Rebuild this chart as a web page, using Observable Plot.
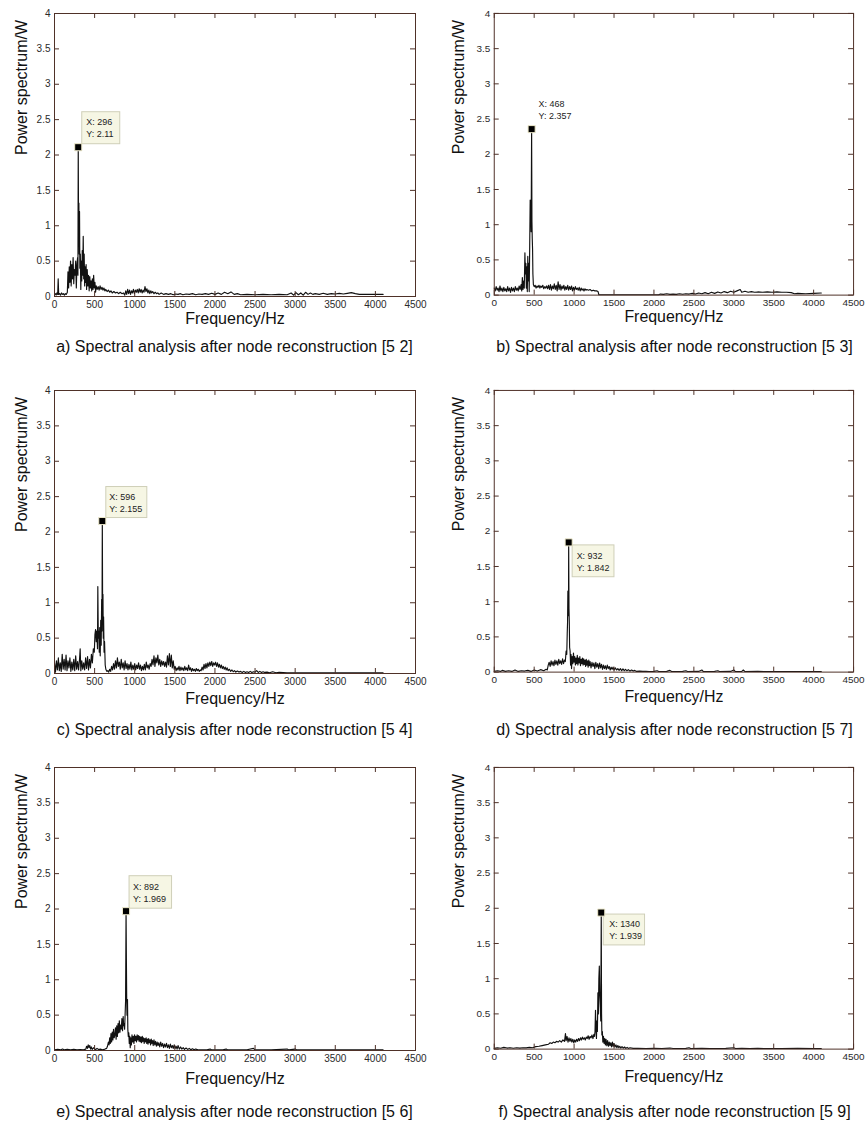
<!DOCTYPE html>
<html><head><meta charset="utf-8">
<script src="https://cdn.jsdelivr.net/npm/d3@7"></script>
<script src="https://cdn.jsdelivr.net/npm/@observablehq/plot@0.6"></script>
<style>
body{margin:0;background:#fff;font-family:"Liberation Sans",Arial,sans-serif;}
#wrap{position:relative;width:868px;height:1124px;overflow:hidden;}
.panel{position:absolute;}
.panel svg{display:block;}
.cap{position:absolute;width:500px;text-align:center;font-size:16px;color:#111;white-space:nowrap;line-height:18px;}
</style></head>
<body><div id="wrap"></div>
<script>
const xTicks = [0,500,1000,1500,2000,2500,3000,3500,4000,4500];
const yTicks = [0,0.5,1,1.5,2,2.5,3,3.5,4];

const spectrumA = [[0,0.03],[10,0.04],[20,0.02],[30,0.05],[40,0.03],[46,0.25],[52,0.03],[64,0.04],[76,0.02],[88,0.05],[100,0.03],[112,0.04],[124,0.02],[136,0.04],[148,0.03],[160,0.06],[168,0.35],[176,0.12],[184,0.42],[192,0.2],[200,0.5],[208,0.15],[216,0.45],[224,0.25],[232,0.55],[240,0.18],[248,0.38],[256,0.3],[264,0.5],[272,0.12],[280,0.45],[288,0.55],[292,0.3],[296,2.11],[300,0.9],[304,1.32],[308,0.6],[312,1.2],[316,0.4],[322,0.6],[328,0.1],[334,0.5],[340,0.22],[346,0.65],[352,0.3],[358,0.85],[364,0.25],[370,0.6],[376,0.15],[382,0.42],[388,0.2],[394,0.45],[400,0.1],[408,0.38],[416,0.15],[424,0.3],[432,0.08],[440,0.28],[448,0.12],[456,0.22],[464,0.08],[472,0.25],[480,0.1],[488,0.3],[496,0.12],[504,0.2],[512,0.06],[520,0.15],[532,0.1],[544,0.14],[556,0.09],[568,0.15],[580,0.1],[592,0.13],[604,0.09],[616,0.12],[628,0.08],[640,0.1],[656,0.07],[672,0.09],[688,0.06],[704,0.08],[720,0.05],[740,0.07],[760,0.05],[780,0.06],[800,0.04],[820,0.06],[840,0.04],[860,0.05],[876,0.02],[888,0.08],[900,0.03],[912,0.1],[924,0.04],[936,0.09],[948,0.03],[960,0.08],[972,0.05],[984,0.1],[996,0.04],[1008,0.09],[1020,0.06],[1032,0.1],[1044,0.05],[1056,0.11],[1068,0.06],[1080,0.1],[1092,0.05],[1104,0.09],[1116,0.06],[1128,0.14],[1140,0.07],[1152,0.11],[1164,0.05],[1176,0.09],[1188,0.04],[1200,0.08],[1212,0.05],[1224,0.07],[1240,0.04],[1256,0.06],[1272,0.04],[1288,0.05],[1304,0.03],[1330,0.05],[1360,0.03],[1390,0.04],[1420,0.03],[1450,0.04],[1480,0.025],[1510,0.035],[1540,0.03],[1570,0.04],[1600,0.025],[1640,0.035],[1680,0.03],[1720,0.04],[1760,0.025],[1800,0.035],[1840,0.03],[1880,0.04],[1920,0.03],[1960,0.045],[2000,0.03],[2040,0.05],[2080,0.03],[2120,0.06],[2160,0.04],[2200,0.065],[2240,0.03],[2280,0.04],[2320,0.025],[2400,0.03],[2500,0.025],[2600,0.03],[2700,0.025],[2800,0.03],[2900,0.025],[2950,0.05],[2980,0.02],[3010,0.055],[3040,0.025],[3070,0.05],[3100,0.02],[3130,0.06],[3160,0.03],[3190,0.05],[3220,0.03],[3250,0.04],[3300,0.03],[3350,0.045],[3400,0.03],[3450,0.04],[3500,0.035],[3550,0.045],[3600,0.035],[3650,0.045],[3700,0.055],[3750,0.04],[3800,0.03],[3900,0.03],[4000,0.03],[4096,0.03]];

const spectrumB = [[0,0.1],[12,0.06],[24,0.12],[36,0.07],[48,0.1],[60,0.05],[72,0.13],[84,0.06],[96,0.1],[108,0.05],[120,0.11],[132,0.06],[144,0.09],[156,0.05],[168,0.12],[180,0.06],[192,0.1],[204,0.04],[216,0.11],[228,0.06],[240,0.1],[252,0.05],[264,0.12],[276,0.07],[288,0.1],[300,0.06],[312,0.13],[324,0.08],[336,0.15],[344,0.06],[352,0.25],[360,0.08],[368,0.2],[376,0.1],[384,0.6],[390,0.3],[396,0.45],[402,0.1],[408,0.4],[414,0.05],[420,0.55],[426,0.2],[432,0.45],[438,0.05],[444,0.7],[450,1.35],[456,1.3],[462,0.9],[468,2.357],[472,1.05],[476,0.8],[480,0.65],[484,0.3],[490,0.15],[500,0.12],[512,0.14],[524,0.1],[536,0.13],[548,0.11],[560,0.14],[572,0.1],[584,0.13],[596,0.11],[608,0.14],[620,0.09],[632,0.12],[644,0.1],[656,0.13],[668,0.09],[680,0.14],[692,0.08],[704,0.15],[716,0.07],[728,0.13],[740,0.09],[752,0.16],[764,0.08],[776,0.14],[788,0.06],[800,0.19],[812,0.08],[824,0.15],[836,0.07],[848,0.13],[860,0.09],[872,0.14],[884,0.07],[896,0.12],[908,0.08],[920,0.14],[932,0.07],[944,0.12],[956,0.08],[968,0.13],[980,0.06],[992,0.11],[1004,0.07],[1016,0.12],[1028,0.08],[1040,0.1],[1052,0.07],[1064,0.11],[1076,0.06],[1088,0.1],[1100,0.07],[1112,0.09],[1124,0.06],[1136,0.09],[1148,0.07],[1160,0.08],[1180,0.07],[1200,0.08],[1220,0.06],[1240,0.07],[1260,0.06],[1280,0.06],[1300,0.05],[1310,0.005],[1500,0.005],[1700,0.005],[1900,0.005],[2060,0.005],[2080,0.015],[2120,0.01],[2160,0.02],[2200,0.01],[2240,0.015],[2280,0.01],[2320,0.02],[2360,0.012],[2400,0.02],[2440,0.015],[2480,0.025],[2520,0.015],[2560,0.03],[2600,0.02],[2640,0.035],[2680,0.02],[2720,0.04],[2760,0.025],[2800,0.045],[2840,0.03],[2880,0.05],[2920,0.035],[2960,0.055],[3000,0.04],[3040,0.06],[3080,0.08],[3100,0.04],[3140,0.055],[3180,0.04],[3220,0.05],[3260,0.04],[3300,0.045],[3360,0.04],[3420,0.045],[3480,0.04],[3540,0.045],[3600,0.04],[3660,0.04],[3720,0.035],[3760,0.02],[3800,0.025],[3900,0.02],[4000,0.025],[4096,0.03]];

const spectrumC = [[0,0.15],[12,0.02],[24,0.18],[36,0.05],[48,0.22],[60,0.04],[72,0.15],[84,0.03],[96,0.27],[108,0.06],[120,0.2],[132,0.05],[144,0.26],[156,0.04],[168,0.18],[180,0.08],[192,0.22],[204,0.03],[216,0.16],[228,0.05],[240,0.2],[252,0.04],[264,0.25],[276,0.06],[288,0.17],[300,0.05],[312,0.2],[320,0.35],[328,0.04],[340,0.18],[352,0.06],[364,0.15],[376,0.05],[388,0.22],[400,0.07],[412,0.24],[424,0.05],[436,0.2],[448,0.08],[460,0.27],[472,0.15],[484,0.35],[496,0.3],[504,0.55],[512,0.62],[520,0.45],[528,0.6],[536,0.35],[540,1.23],[546,0.5],[552,0.6],[558,0.3],[564,0.65],[570,0.25],[576,0.75],[582,0.4],[588,1.05],[592,0.6],[596,2.155],[600,0.9],[604,1.12],[608,0.5],[612,0.8],[618,0.3],[624,0.45],[632,0.12],[640,0.06],[652,0.03],[664,0.04],[676,0.02],[688,0.06],[700,0.03],[712,0.1],[724,0.05],[736,0.14],[748,0.06],[760,0.18],[772,0.08],[784,0.22],[796,0.1],[808,0.16],[820,0.06],[832,0.2],[844,0.08],[856,0.15],[868,0.05],[880,0.18],[892,0.07],[904,0.14],[916,0.05],[928,0.13],[940,0.06],[952,0.16],[964,0.05],[976,0.12],[988,0.06],[1000,0.14],[1012,0.05],[1024,0.12],[1036,0.07],[1048,0.15],[1060,0.06],[1072,0.12],[1084,0.04],[1096,0.1],[1108,0.05],[1120,0.13],[1132,0.05],[1144,0.16],[1156,0.08],[1168,0.12],[1180,0.06],[1192,0.14],[1204,0.1],[1216,0.2],[1228,0.12],[1240,0.25],[1252,0.1],[1264,0.22],[1276,0.15],[1288,0.26],[1300,0.12],[1312,0.2],[1324,0.1],[1336,0.18],[1348,0.12],[1360,0.17],[1372,0.1],[1384,0.16],[1396,0.09],[1408,0.25],[1420,0.12],[1432,0.28],[1444,0.1],[1456,0.26],[1468,0.08],[1480,0.18],[1492,0.06],[1504,0.1],[1516,0.04],[1528,0.08],[1540,0.05],[1552,0.1],[1564,0.04],[1576,0.09],[1588,0.05],[1600,0.08],[1612,0.04],[1624,0.1],[1636,0.05],[1648,0.08],[1660,0.04],[1672,0.12],[1684,0.05],[1696,0.08],[1708,0.03],[1720,0.07],[1732,0.04],[1744,0.06],[1756,0.03],[1768,0.07],[1780,0.04],[1792,0.06],[1804,0.03],[1816,0.05],[1828,0.04],[1840,0.09],[1852,0.05],[1864,0.13],[1876,0.07],[1888,0.14],[1900,0.08],[1912,0.15],[1924,0.1],[1936,0.16],[1948,0.11],[1960,0.17],[1972,0.1],[1984,0.15],[1996,0.12],[2008,0.16],[2020,0.1],[2032,0.15],[2044,0.09],[2056,0.13],[2068,0.08],[2080,0.12],[2092,0.07],[2104,0.1],[2116,0.06],[2128,0.09],[2140,0.05],[2152,0.08],[2164,0.04],[2180,0.06],[2196,0.03],[2212,0.05],[2228,0.025],[2244,0.04],[2260,0.02],[2280,0.035],[2300,0.02],[2320,0.03],[2340,0.015],[2360,0.03],[2380,0.015],[2400,0.025],[2420,0.015],[2440,0.03],[2460,0.015],[2480,0.025],[2500,0.02],[2520,0.04],[2540,0.015],[2560,0.03],[2580,0.015],[2600,0.025],[2620,0.015],[2650,0.02],[2680,0.01],[2720,0.025],[2760,0.01],[2800,0.015],[2900,0.01],[3000,0.01],[3200,0.01],[3400,0.01],[3600,0.01],[3800,0.01],[4000,0.01],[4096,0.01]];

const spectrumD = [[0,0.01],[40,0.02],[80,0.01],[100,0.025],[140,0.01],[180,0.02],[220,0.01],[260,0.03],[300,0.01],[340,0.02],[380,0.015],[420,0.025],[460,0.01],[500,0.03],[540,0.015],[580,0.035],[620,0.02],[650,0.04],[664,0.03],[676,0.1],[688,0.14],[700,0.08],[712,0.16],[724,0.1],[736,0.15],[748,0.09],[760,0.17],[772,0.11],[784,0.16],[796,0.1],[808,0.18],[820,0.12],[832,0.16],[844,0.11],[856,0.19],[868,0.12],[880,0.17],[890,0.15],[900,0.3],[908,0.25],[914,0.55],[918,0.7],[922,1.15],[926,1.1],[930,0.8],[932,1.842],[936,0.9],[940,0.7],[944,0.35],[950,0.3],[956,0.1],[962,0.25],[968,0.05],[976,0.22],[984,0.12],[992,0.27],[1000,0.14],[1008,0.22],[1016,0.1],[1024,0.2],[1032,0.12],[1040,0.24],[1048,0.1],[1056,0.2],[1064,0.13],[1072,0.22],[1080,0.09],[1088,0.18],[1096,0.12],[1104,0.2],[1112,0.1],[1120,0.19],[1128,0.11],[1136,0.17],[1144,0.08],[1152,0.18],[1160,0.1],[1168,0.16],[1176,0.07],[1184,0.17],[1192,0.09],[1200,0.15],[1212,0.06],[1224,0.14],[1236,0.08],[1248,0.13],[1260,0.05],[1272,0.14],[1284,0.07],[1296,0.12],[1308,0.05],[1320,0.13],[1332,0.06],[1344,0.11],[1356,0.04],[1368,0.1],[1380,0.05],[1392,0.09],[1404,0.04],[1416,0.1],[1428,0.05],[1440,0.08],[1452,0.03],[1464,0.07],[1476,0.04],[1488,0.07],[1500,0.03],[1516,0.06],[1532,0.03],[1548,0.05],[1564,0.025],[1580,0.05],[1596,0.02],[1612,0.045],[1628,0.02],[1644,0.04],[1660,0.02],[1680,0.035],[1700,0.015],[1720,0.03],[1740,0.015],[1760,0.025],[1780,0.01],[1820,0.015],[1860,0.01],[1900,0.012],[1940,0.008],[2000,0.01],[2040,0.02],[2060,0.008],[2160,0.01],[2200,0.025],[2220,0.008],[2360,0.01],[2400,0.02],[2420,0.008],[2560,0.01],[2600,0.03],[2620,0.008],[2760,0.01],[2800,0.02],[2820,0.008],[2960,0.01],[3000,0.03],[3020,0.008],[3100,0.01],[3120,0.03],[3140,0.008],[3300,0.01],[3400,0.008],[3600,0.008],[3800,0.008],[4000,0.008],[4096,0.008]];

const spectrumE = [[0,0.01],[40,0.015],[80,0.01],[100,0.02],[120,0.01],[160,0.015],[200,0.01],[240,0.015],[280,0.01],[320,0.012],[360,0.01],[390,0.02],[400,0.06],[410,0.03],[420,0.08],[430,0.04],[440,0.07],[450,0.02],[460,0.05],[470,0.015],[490,0.04],[510,0.01],[530,0.03],[550,0.015],[570,0.02],[600,0.01],[630,0.02],[650,0.03],[660,0.06],[672,0.12],[680,0.08],[688,0.18],[696,0.1],[704,0.24],[712,0.12],[720,0.26],[728,0.15],[736,0.3],[744,0.18],[752,0.22],[760,0.32],[768,0.16],[776,0.35],[784,0.2],[792,0.38],[800,0.25],[808,0.42],[816,0.26],[824,0.36],[832,0.3],[840,0.45],[848,0.28],[856,0.48],[862,0.35],[868,0.38],[874,0.3],[880,0.5],[886,0.7],[892,1.969],[896,1.3],[900,0.72],[904,0.5],[910,0.72],[914,0.3],[920,0.2],[926,0.25],[932,0.1],[938,0.2],[944,0.04],[950,0.18],[958,0.08],[966,0.22],[974,0.12],[982,0.2],[990,0.1],[998,0.22],[1006,0.14],[1014,0.2],[1022,0.12],[1030,0.22],[1038,0.15],[1046,0.21],[1054,0.13],[1062,0.2],[1070,0.12],[1078,0.19],[1086,0.11],[1094,0.2],[1102,0.13],[1110,0.18],[1118,0.1],[1126,0.17],[1134,0.12],[1142,0.18],[1150,0.1],[1158,0.16],[1166,0.09],[1174,0.17],[1182,0.11],[1190,0.15],[1198,0.08],[1206,0.16],[1214,0.1],[1222,0.14],[1230,0.07],[1240,0.15],[1250,0.08],[1260,0.13],[1270,0.06],[1280,0.12],[1290,0.07],[1300,0.11],[1312,0.05],[1324,0.12],[1336,0.06],[1348,0.1],[1360,0.04],[1372,0.09],[1384,0.05],[1396,0.1],[1408,0.04],[1420,0.08],[1432,0.03],[1444,0.09],[1456,0.04],[1468,0.07],[1480,0.03],[1492,0.08],[1504,0.03],[1516,0.06],[1528,0.02],[1540,0.07],[1556,0.02],[1572,0.05],[1588,0.02],[1604,0.04],[1620,0.015],[1640,0.035],[1660,0.015],[1680,0.03],[1700,0.01],[1720,0.025],[1740,0.01],[1760,0.02],[1800,0.008],[1900,0.01],[1940,0.02],[1960,0.008],[2100,0.01],[2140,0.02],[2160,0.008],[2300,0.01],[2400,0.01],[2480,0.03],[2500,0.008],[2600,0.01],[2700,0.01],[2900,0.02],[2920,0.008],[3000,0.02],[3020,0.008],[3100,0.01],[3200,0.01],[3400,0.008],[3600,0.008],[3800,0.008],[4000,0.008],[4096,0.008]];

const spectrumF = [[0,0.01],[40,0.02],[80,0.012],[120,0.025],[160,0.015],[200,0.02],[240,0.012],[280,0.02],[320,0.015],[360,0.02],[400,0.018],[440,0.025],[480,0.02],[520,0.035],[560,0.04],[600,0.05],[640,0.06],[680,0.07],[700,0.09],[720,0.08],[740,0.1],[760,0.09],[780,0.11],[800,0.1],[820,0.12],[840,0.1],[860,0.13],[880,0.11],[892,0.22],[900,0.12],[912,0.18],[924,0.1],[936,0.16],[948,0.11],[960,0.15],[972,0.1],[984,0.14],[996,0.09],[1008,0.13],[1020,0.1],[1032,0.14],[1044,0.11],[1056,0.15],[1068,0.12],[1080,0.16],[1092,0.13],[1104,0.17],[1116,0.14],[1128,0.16],[1140,0.13],[1152,0.17],[1164,0.15],[1176,0.19],[1188,0.14],[1200,0.18],[1212,0.16],[1224,0.2],[1236,0.15],[1248,0.21],[1256,0.18],[1262,0.25],[1268,0.55],[1274,0.3],[1280,0.15],[1286,0.4],[1292,0.25],[1298,0.8],[1304,0.5],[1310,1.0],[1316,1.18],[1322,0.75],[1328,0.6],[1334,0.4],[1340,1.939],[1344,0.5],[1348,0.2],[1354,0.25],[1360,0.1],[1368,0.18],[1376,0.08],[1384,0.15],[1392,0.06],[1400,0.14],[1410,0.05],[1420,0.12],[1430,0.04],[1440,0.1],[1450,0.05],[1460,0.09],[1470,0.03],[1480,0.1],[1490,0.04],[1500,0.08],[1512,0.03],[1524,0.06],[1536,0.02],[1548,0.05],[1560,0.02],[1572,0.04],[1584,0.015],[1600,0.035],[1616,0.015],[1632,0.03],[1648,0.01],[1664,0.025],[1680,0.01],[1700,0.02],[1740,0.01],[1800,0.012],[1900,0.008],[2000,0.01],[2100,0.008],[2200,0.015],[2240,0.008],[2400,0.01],[2440,0.02],[2460,0.008],[2600,0.01],[2700,0.008],[2900,0.01],[3000,0.02],[3020,0.008],[3100,0.01],[3200,0.008],[3300,0.01],[3400,0.008],[3600,0.008],[3800,0.01],[4000,0.008],[4096,0.008]];

const peakFreq = [296, 468, 596, 932, 892, 1340];
const peakPower = [2.11, 2.357, 2.155, 1.842, 1.969, 1.939];
const peakXText = ["296", "468", "596", "932", "892", "1340"];
const peakYText = ["2.11", "2.357", "2.155", "1.842", "1.969", "1.939"];
const captions = [
  "a) Spectral analysis after node reconstruction [5 2]",
  "b) Spectral analysis after node reconstruction [5 3]",
  "c) Spectral analysis after node reconstruction [5 4]",
  "d) Spectral analysis after node reconstruction [5 7]",
  "e) Spectral analysis after node reconstruction [5 6]",
  "f) Spectral analysis after node reconstruction [5 9]"
];
const spectra = [spectrumA, spectrumB, spectrumC, spectrumD, spectrumE, spectrumF];

// layout (pixels)
const W = 430, H = 341, ML = 54, MR = 15, MT = 13, MB = 45;
const PW = W - ML - MR, PH = H - MT - MB;
const frameColor = "#4f3128";
const layout = [
  {left: 0,   top: 0,   xlab: 27, cap: 51, ylab: -33, box: [4, 42, -35, -3],   txt: [8, -20]},
  {left: 440, top: 0,   xlab: 27, cap: 51, ylab: -36, box: null,               txt: [7, -20]},
  {left: 0,   top: 377, xlab: 30, cap: 57, ylab: -33, box: [4, 45, -34, -3],   txt: [7, -19]},
  {left: 440, top: 377, xlab: 30, cap: 57, ylab: -36, box: [4, 46, 3, 35],     txt: [8, 18.5]},
  {left: 0,   top: 754, xlab: 33, cap: 62, ylab: -33, box: [3.5, 46, -35, -2.5], txt: [7, -19]},
  {left: 440, top: 754, xlab: 33, cap: 62, ylab: -36, box: [2.5, 44, 2, 33],   txt: [8, 17]}
];

const wrap = document.getElementById("wrap");
spectra.forEach((data, i) => {
  const L = layout[i];
  const pk = [{f: peakFreq[i], p: peakPower[i], xs: peakXText[i], ys: peakYText[i]}];
  const marks = [
    Plot.line(data, {x: d => d[0], y: d => d[1], stroke: "#111", strokeWidth: 1.15}),
    Plot.tickY(yTicks, {y: d => d, insetRight: PW - 5, stroke: frameColor}),
    Plot.tickY(yTicks, {y: d => d, insetLeft: PW - 5, stroke: frameColor}),
    Plot.tickX(xTicks, {x: d => d, insetTop: PH - 5, stroke: frameColor}),
    Plot.tickX(xTicks, {x: d => d, insetBottom: PH - 5, stroke: frameColor}),
    Plot.frame({stroke: frameColor, strokeWidth: 1}),
    Plot.text(["Frequency/Hz"], {text: d => d, frameAnchor: "bottom", dy: L.xlab, fontSize: 16, fill: "#111"}),
    Plot.text(["Power spectrum/W"], {text: d => d, frameAnchor: "left", dx: L.ylab, rotate: -90, fontSize: 16, fill: "#111"})
  ];
  if (L.box) {
    marks.push(Plot.rect(pk, {x1: "f", x2: "f", y1: "p", y2: "p",
      insetLeft: L.box[0], insetRight: -L.box[1], insetTop: L.box[2], insetBottom: -L.box[3],
      fill: "#f6f6e4", stroke: "#cfcfb8", strokeWidth: 1}));
  }
  marks.push(Plot.text(pk, {x: "f", y: "p", text: d => `X: ${d.xs}\nY: ${d.ys}`, dx: L.txt[0], dy: L.txt[1],
    textAnchor: "start", lineAnchor: "middle", fontSize: 9, lineHeight: 1.33, fill: "#222"}));
  marks.push(Plot.dot(pk, {x: "f", y: "p", symbol: "square", r: 4, fill: "#000", stroke: "#eeeacb", strokeWidth: 1}));

  const chart = Plot.plot({
    width: W, height: H,
    marginLeft: ML, marginRight: MR, marginTop: MT, marginBottom: MB,
    style: {fontFamily: "'Liberation Sans', Arial, sans-serif", fontSize: "10px", color: "#2a2a2a", background: "transparent", overflow: "visible"},
    x: {domain: [0, 4500], ticks: xTicks, tickSize: 0, tickPadding: 4, tickFormat: d => `${d}`, label: null},
    y: {domain: [0, 4], ticks: yTicks, tickSize: 0, tickPadding: 4, tickFormat: d => `${d}`, label: null},
    marks
  });
  const div = document.createElement("div");
  div.className = "panel";
  div.style.left = L.left + "px";
  div.style.top = L.top + "px";
  div.appendChild(chart);
  wrap.appendChild(div);

  const cap = document.createElement("div");
  cap.className = "cap";
  cap.textContent = captions[i];
  cap.style.left = (L.left + ML + PW / 2 - 250) + "px";
  cap.style.top = (L.top + MT + PH + L.cap - 9) + "px";
  wrap.appendChild(cap);
});
</script>
</body></html>
